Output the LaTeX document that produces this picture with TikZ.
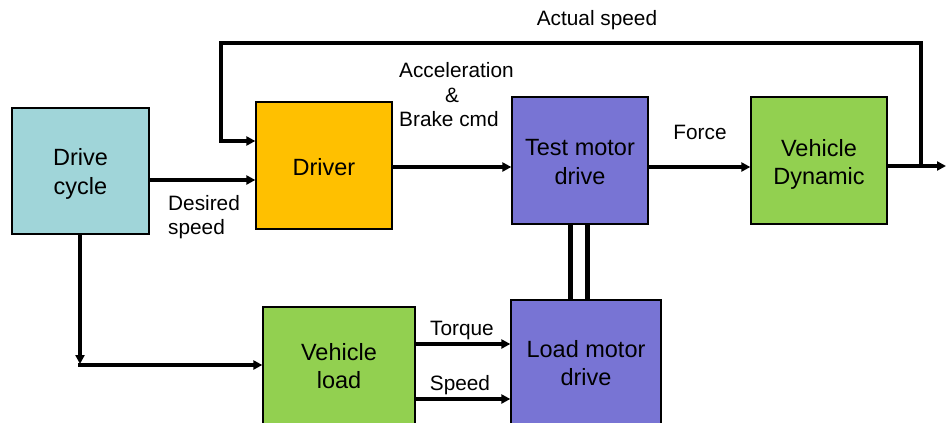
\documentclass[tikz,border=0pt]{standalone}
\usepackage{fontspec}
\setmainfont{Liberation Sans}
\usetikzlibrary{arrows.meta}
\definecolor{cyc}{RGB}{160,213,217}
\definecolor{drvc}{RGB}{255,192,0}
\definecolor{mot}{RGB}{120,116,212}
\definecolor{veh}{RGB}{146,208,80}
\begin{document}
\begin{tikzpicture}[x=1pt,y=-1pt,
 blk/.style={draw=black,line width=1.3pt,inner sep=0pt},
 btxt/.style={align=center,font=\fontsize{23.5}{28.5}\selectfont,inner sep=0pt},
 lbl/.style={align=center,font=\fontsize{20.8}{24.5}\selectfont,inner sep=0pt},
 conn/.style={line width=3.2pt,-{Triangle[length=9pt,width=9pt]}},
 plainln/.style={line width=3.2pt}]
\useasboundingbox (0,0) rectangle (946,423);
\clip (0,0) rectangle (946,423);
% blocks
\node[blk,fill=cyc,minimum width=137pt,minimum height=126pt] (cyc) at (80.5,171) {};
\node[blk,fill=drvc,minimum width=136pt,minimum height=127pt] (drv) at (324,165.5) {};
\node[blk,fill=mot,minimum width=136pt,minimum height=127pt] (tmd) at (580,160.5) {};
\node[blk,fill=veh,minimum width=136pt,minimum height=127pt] (vd) at (819,160.5) {};
\node[blk,fill=veh,minimum width=152pt,minimum height=120pt] (vl) at (339,367) {};
\node[blk,fill=mot,minimum width=150pt,minimum height=128pt] (lmd) at (586,364) {};
% block texts
\node[btxt] (cyct) at ([yshift=-3pt]cyc.center) {Drive\\cycle};
\node[btxt] (drvt) at ([yshift=-2pt]drv.center) {Driver};
\node[btxt] (tmdt) at ([yshift=-1.5pt]tmd.center) {Test motor\\drive};
\node[btxt] (vdt) at ([yshift=-4pt]vd.center) {Vehicle\\Dynamic};
\node[btxt] (vlt) at ([yshift=1pt]vl.center) {Vehicle\\load};
\node[btxt] (lmdt) at ([yshift=1pt]lmd.center) {Load motor\\drive};
% helper coordinates
\coordinate (y180) at (0,180);
\coordinate (y167) at (0,167);
\coordinate (y141) at (0,141);
\coordinate (fbR) at (921,166);
\coordinate (fbT) at (921,43);
\coordinate (fbL) at (221,43);
\coordinate (out) at (946,166);
\coordinate (x570) at (570,0);
\coordinate (x587) at (587,0);
\coordinate (x80) at (80,0);
\coordinate (dn) at (80,364);
\coordinate (cornerL) at (78.4,365);
\coordinate (y344) at (0,344);
\coordinate (y399) at (0,399);
% connectors
\draw[conn] (cyc.east |- y180) -- (drv.west |- y180);
\draw[conn] (drv.east |- y167) -- (tmd.west |- y167);
\draw[conn] (tmd.east |- y167) -- (vd.west |- y167);
\draw[conn] (vd.east |- out) -- (out);
\draw[conn] (fbR) -- (fbT) -- (fbL) -- (fbL |- y141) -- (drv.west |- y141);
\draw[plainln,line width=5pt] (tmd.south -| x570) -- (lmd.north -| x570);
\draw[plainln,line width=5pt] (tmd.south -| x587) -- (lmd.north -| x587);
\draw[conn] (cyc.south -| x80) -- (dn);
\draw[conn] (cornerL) -- (vl.west |- cornerL);
\draw[conn] (vl.east |- y344) -- (lmd.west |- y344);
\draw[conn] (vl.east |- y399) -- (lmd.west |- y399);
% labels
\node[lbl] (lact) at (597,20) {Actual speed};
\node[lbl,align=left,anchor=west] (lacc) at (399,95) {Acceleration\\\hspace*{46pt}\&\\Brake cmd};
\node[lbl] (lforce) at (700,132) {Force};
\node[lbl,align=left,anchor=west] (ldes) at (168,217) {Desired\\speed};
\node[lbl] (ltorque) at (462,331) {Torque};
\node[lbl] (lspeed) at (460,385) {Speed};
\end{tikzpicture}
\end{document}
